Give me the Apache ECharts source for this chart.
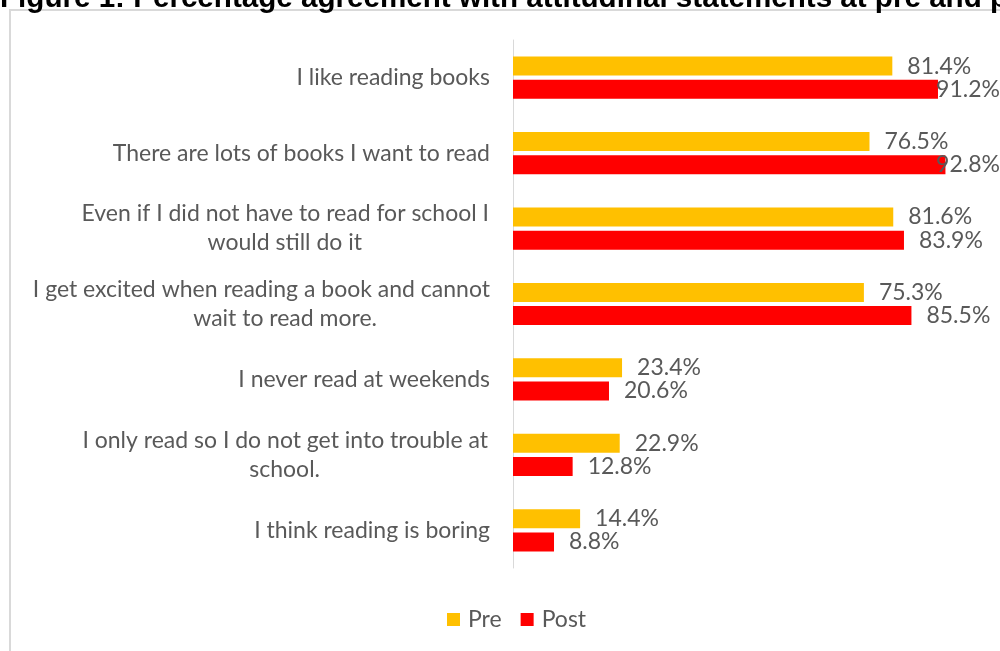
<!DOCTYPE html>
<html>
<head>
<meta charset="utf-8">
<script src="https://cdn.jsdelivr.net/npm/echarts@6/dist/echarts.min.js"></script>
<style>
html,body{margin:0;padding:0;background:#fff;}
#chart{width:1000px;height:651px;}
</style>
</head>
<body>
<div id="chart"></div>
<script>
var titleText = 'Figure 1: Percentage agreement with attitudinal statements at pre and post';
var categories = [
  'I like reading books',
  'There are lots of books I want to read',
  'Even if I did not have to read for school I\nwould still do it',
  'I get excited when reading a book and cannot\nwait to read more.',
  'I never read at weekends',
  'I only read so I do not get into trouble at\nschool.',
  'I think reading is boring'
];
var preValues = [81.4, 76.5, 81.6, 75.3, 23.4, 22.9, 14.4];
var postValues = [91.2, 92.8, 83.9, 85.5, 20.6, 12.8, 8.8];
var seriesNames = ['Pre', 'Post'];

var FONT = 'Lato';
var FS = 23;
var GREY = '#595959';
var HALF_BOX = 205;

var ctx = document.createElement('canvas').getContext('2d');
ctx.font = FS + 'px ' + FONT;
var rich = {};
var labelMap = {};
categories.forEach(function (c, i) {
  var lines = c.split('\n');
  if (lines.length === 1) { labelMap[c] = c; return; }
  var parts = lines.map(function (ln, j) {
    var w = ctx.measureText(ln).width;
    var pad = Math.max(0, Math.round(HALF_BOX - w / 2));
    var key = 'l' + i + '_' + j;
    rich[key] = {fontFamily: FONT, fontSize: FS, color: GREY, lineHeight: 29, align: 'right', padding: [0, pad, 0, 0]};
    return '{' + key + '|' + ln + '}';
  });
  labelMap[c] = parts.join('\n');
});

var chart = echarts.init(document.getElementById('chart'));
function clampLabel(params) {
  var r = params.labelRect;
  var maxX = chart.getWidth() - r.width;
  if (r.x > maxX) {
    return {x: maxX, y: r.y + r.height / 2, align: 'left', verticalAlign: 'middle'};
  }
  return {};
}
var valueLabel = {
  show: true, position: 'right', distance: 15,
  fontFamily: FONT, fontSize: FS, color: GREY,
  formatter: function (p) { return p.value.toFixed(1) + '%'; }
};
chart.setOption({
  animation: false,
  backgroundColor: '#ffffff',
  graphic: [
    {type: 'rect', shape: {x: 10, y: 10, width: 1100, height: 800}, style: {fill: 'none', stroke: '#d9d9d9', lineWidth: 2}, silent: true, z: -1},
    {type: 'text', x: 0, y: 14, style: {text: titleText, font: 'bold 29.6px "Liberation Sans", Arial, sans-serif', fill: '#000', textVerticalAlign: 'bottom'}, silent: true}
  ],
  legend: {
    data: seriesNames,
    left: 447,
    top: 608,
    padding: 0,
    icon: 'rect',
    itemWidth: 13,
    itemHeight: 13,
    itemGap: 19,
    textStyle: {fontFamily: FONT, fontSize: FS, color: GREY, padding: [0, 0, 0, 3]}
  },
  grid: {left: 513, right: 21, top: 40, bottom: 83, containLabel: false},
  xAxis: {
    type: 'value', min: 0, max: 100, show: false
  },
  yAxis: {
    type: 'category',
    data: categories,
    inverse: true,
    axisLine: {show: true, lineStyle: {color: '#d9d9d9', width: 1}},
    axisTick: {show: false},
    splitLine: {show: false},
    axisLabel: {
      fontFamily: FONT, fontSize: FS, color: GREY, margin: 23, lineHeight: 29,
      formatter: function (v) { return labelMap[v]; },
      rich: rich
    }
  },
  series: [
    {
      name: seriesNames[0], type: 'bar', data: preValues, barWidth: 19, barGap: '22%',
      itemStyle: {color: '#FFC000'},
      label: valueLabel,
      labelLayout: clampLabel
    },
    {
      name: seriesNames[1], type: 'bar', data: postValues, barWidth: 19, barGap: '22%',
      itemStyle: {color: '#FF0000'},
      label: valueLabel,
      labelLayout: clampLabel
    }
  ]
});
</script>
</body>
</html>
